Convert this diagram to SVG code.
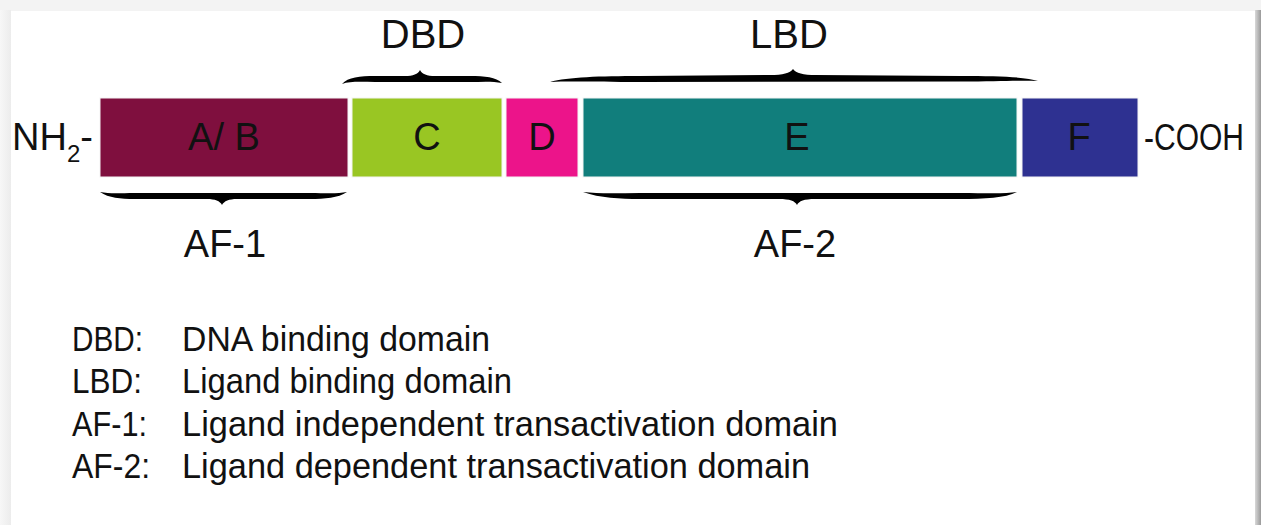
<svg xmlns="http://www.w3.org/2000/svg" width="1261" height="525" viewBox="0 0 1261 525">
  <style>
    text { font-family: "Liberation Sans", "Open Sans", sans-serif; fill: #111; }
    .lbl { font-size: 38px; text-anchor: middle; }
    .top { font-size: 40px; text-anchor: middle; }
    .leg { font-size: 35px; }
    .dom { stroke: #f4f4f4; stroke-width: 1; }
    .brace { fill: #000; }
  </style>
  <defs>
    <linearGradient id="shadeR" x1="0" y1="0" x2="1" y2="0">
      <stop offset="0" stop-color="#d8d8d8"/>
      <stop offset="1" stop-color="#9a9a9a"/>
    </linearGradient>
    <linearGradient id="shadeL" x1="0" y1="0" x2="1" y2="0">
      <stop offset="0" stop-color="#f7f7f7"/>
      <stop offset="1" stop-color="#ececec"/>
    </linearGradient>
  </defs>

  <!-- page frame -->
  <rect x="0" y="0" width="1261" height="525" fill="#f3f3f3"/>
  <rect x="0" y="10" width="11" height="515" fill="url(#shadeL)"/>
  <rect x="11" y="11" width="1244" height="514" fill="#ffffff"/>
  <rect x="1255" y="10" width="6" height="515" fill="url(#shadeR)"/>

  <!-- braces -->
  <g id="connectors">
    <path id="brace-dbd" class="brace" d="M342,84 C348,77 360,76 375,76 L405,76 C413,76 418,74 420,70 C422,74 427,76 435,76 L470,76 C485,76 496,77 502,83 C492,81 480,82 470,82 L375,82 C362,82 350,81 342,84 Z"/>
    <path id="brace-lbd" class="brace" d="M550,82 C568,77 600,76 640,76 L770,75 C783,75 790,73 793,69 C796,73 803,75 816,75 L960,76 C1000,76 1026,77 1038,81 C1020,80 1000,81.5 960,81.5 L640,82 C600,82 570,81 550,82 Z"/>
    <path id="brace-af1" class="brace" d="M100,192 C110,194 120,193 135,193 L310,193 C325,193 337,194 347,192 C338,198 325,199 310,199 L237,199 C229,199 224,201 222,205 C220,201 215,199 207,199 L135,199 C120,199 109,198 100,192 Z"/>
    <path id="brace-af2" class="brace" d="M583,192 C600,194 620,193 640,193 L960,193 C985,193 1005,194 1017,192 C1005,198 985,199 960,199 L815,199 C804,199 799,201 797,205 C795,201 790,199 779,199 L640,199 C620,199 600,198 583,192 Z"/>
  </g>

  <!-- domains -->
  <g id="domain-ab"><rect class="dom" x="100" y="98" width="248" height="79" fill="#7f0f3e"/><text class="lbl" x="224" y="150">A/ B</text></g>
  <g id="domain-c"><rect class="dom" x="352" y="98" width="150" height="79" fill="#99c623"/><text class="lbl" x="427" y="150">C</text></g>
  <g id="domain-d"><rect class="dom" x="506" y="98" width="72" height="79" fill="#ec148a"/><text class="lbl" x="542" y="150">D</text></g>
  <g id="domain-e"><rect class="dom" x="583" y="98" width="434" height="79" fill="#117e7c"/><text class="lbl" x="797" y="150">E</text></g>
  <g id="domain-f"><rect class="dom" x="1022" y="98" width="116" height="79" fill="#2e3191"/><text class="lbl" x="1079" y="150">F</text></g>

  <!-- termini -->
  <g id="n-term"><text x="12" y="150" font-size="38">NH<tspan font-size="24" dy="12">2</tspan><tspan dy="-12">-</tspan></text></g>
  <g id="c-term"><text x="1144" y="150" font-size="36" textLength="100" lengthAdjust="spacingAndGlyphs">-COOH</text></g>

  <!-- region labels -->
  <g id="label-dbd"><text class="top" x="423" y="48">DBD</text></g>
  <g id="label-lbd"><text class="top" x="789" y="48">LBD</text></g>
  <g id="label-af1"><text class="lbl" x="225" y="257">AF-1</text></g>
  <g id="label-af2"><text class="lbl" x="795" y="257">AF-2</text></g>

  <!-- legend -->
  <g id="legend">
    <text class="leg" x="72" y="351" textLength="71" lengthAdjust="spacingAndGlyphs">DBD:</text>
    <text class="leg" x="182" y="351" textLength="308" lengthAdjust="spacingAndGlyphs">DNA binding domain</text>
    <text class="leg" x="72" y="393" textLength="70" lengthAdjust="spacingAndGlyphs">LBD:</text>
    <text class="leg" x="182" y="393" textLength="330" lengthAdjust="spacingAndGlyphs">Ligand binding domain</text>
    <text class="leg" x="72" y="436" textLength="75" lengthAdjust="spacingAndGlyphs">AF-1:</text>
    <text class="leg" x="182" y="436" textLength="656" lengthAdjust="spacingAndGlyphs">Ligand independent transactivation domain</text>
    <text class="leg" x="72" y="478" textLength="78" lengthAdjust="spacingAndGlyphs">AF-2:</text>
    <text class="leg" x="182" y="478" textLength="628" lengthAdjust="spacingAndGlyphs">Ligand dependent transactivation domain</text>
  </g>
</svg>
